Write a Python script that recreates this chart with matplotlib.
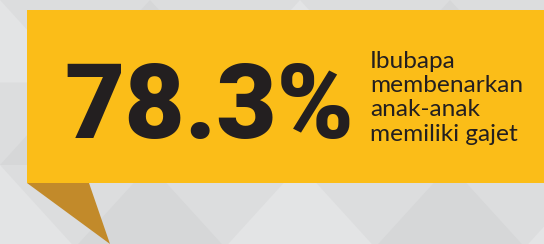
import matplotlib.pyplot as plt
from matplotlib.patches import Polygon, Rectangle

# data
percent_value = 78.3
caption_lines = ["Ibubapa", "membenarkan", "anak-anak", "memiliki gajet"]

W, H = 544, 244
fig = plt.figure(figsize=(W / 100, H / 100), dpi=100)
ax = fig.add_axes([0, 0, 1, 1])
ax.set_xlim(0, W)
ax.set_ylim(H, 0)
ax.axis('off')

# background with faint diamond facets
ax.add_patch(Rectangle((0, 0), W, H, color='#dcddde', zorder=0))
shades = ['#e3e4e5', '#d6d7d8']
step = 150
for i in range(-1, 6):
    for j in range(-1, 3):
        cx = i * step + (step / 2 if j % 2 else 0)
        cy = j * step * 0.55
        tri1 = [(cx, cy), (cx + step / 2, cy + step * 0.55), (cx - step / 2, cy + step * 0.55)]
        ax.add_patch(Polygon(tri1, closed=True, color=shades[(i + j) % 2], zorder=1, lw=0))

# speech bubble
ax.add_patch(Polygon([(27, 183), (89, 183), (110, 244)], closed=True, color='#c28a2a', zorder=2, lw=0))
ax.add_patch(Rectangle((27, 10), W - 27, 173, color='#fbbd18', zorder=3, lw=0))

ax.text(64, 138, f"{percent_value}%", fontsize=75, fontweight='black', family=['Roboto', 'DejaVu Sans'],
        color='#231f20', ha='left', va='baseline', zorder=4)

# caption, one line per baseline
for k, line in enumerate(caption_lines):
    ax.text(370, 68 + k * 24.2, line, fontsize=17.6, family=['Lato', 'DejaVu Sans'],
            color='#231f20', ha='left', va='baseline', zorder=4)

fig.savefig('out.png', dpi=100)
